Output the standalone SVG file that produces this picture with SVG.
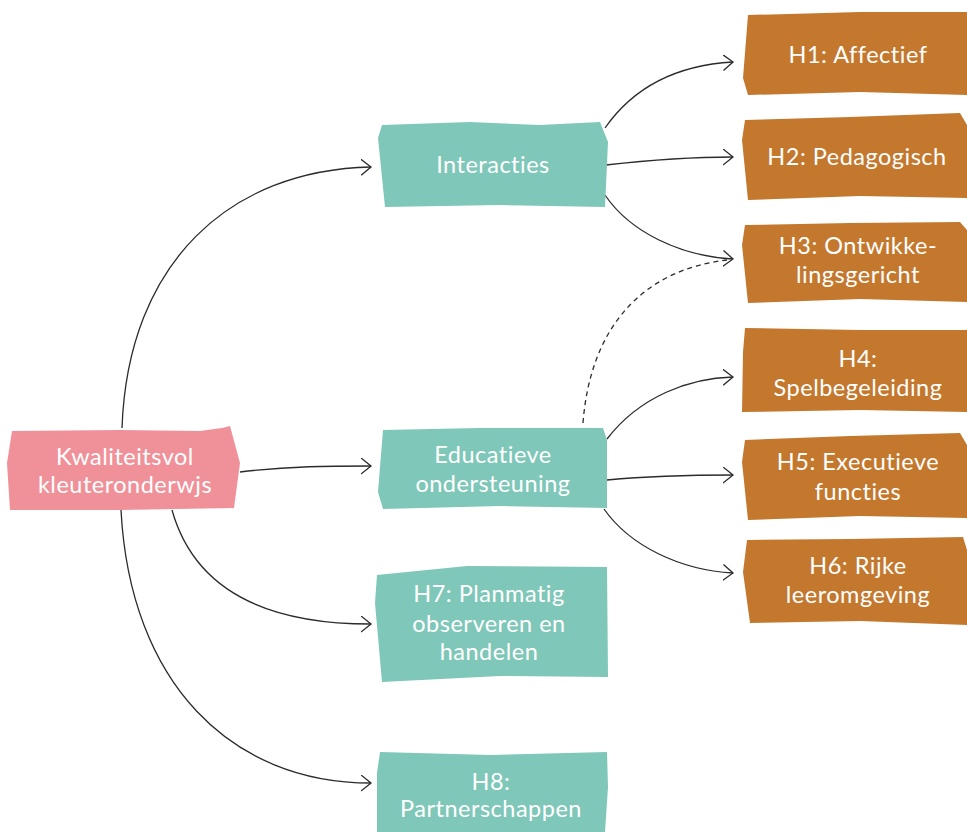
<svg xmlns="http://www.w3.org/2000/svg" width="967" height="832" viewBox="0 0 967 832">
<defs>
<style>
.pink{fill:#F0919A}
.teal{fill:#7FC7B8}
.orange{fill:#C4782E}
.t{font-family:"Lato","Liberation Sans",sans-serif;font-size:23.5px;letter-spacing:0.5px;fill:#ffffff;text-anchor:middle}
.c{fill:none;stroke:#2b2b2b;stroke-width:1.3}
.d{stroke-dasharray:5 4}
</style>
<marker id="arr" markerUnits="userSpaceOnUse" markerWidth="12" markerHeight="18" refX="10" refY="8" orient="auto" viewBox="0 0 12 18">
<path d="M0,0 L10,8 L0,16" fill="none" stroke="#2b2b2b" stroke-width="1.3"/>
</marker>
</defs>
<rect width="967" height="832" fill="#ffffff"/>
<g id="connectors">
<path class="c" marker-end="url(#arr)" d="M122,428 C128,262 230,170 371,167"/>
<path class="c" marker-end="url(#arr)" d="M240,472 C290,466 330,466 371,466"/>
<path class="c" marker-end="url(#arr)" d="M172,510 C195,592 270,624 371,624"/>
<path class="c" marker-end="url(#arr)" d="M121,510 C130,682 230,783 371,783"/>
<path class="c" marker-end="url(#arr)" d="M605,128 C635,85 680,65 733,62"/>
<path class="c" marker-end="url(#arr)" d="M606,165 C650,160 690,157 733,157"/>
<path class="c" marker-end="url(#arr)" d="M605,195 C630,232 680,256 733,259"/>
<path class="c d" d="M583,423 C590,330 640,270 727,260"/>
<path class="c" marker-end="url(#arr)" d="M607,439 C640,396 690,378 733,377"/>
<path class="c" marker-end="url(#arr)" d="M607,480 C650,476 690,475 733,475"/>
<path class="c" marker-end="url(#arr)" d="M604,509 C630,546 680,570 733,573"/>
</g>
<g id="kwaliteitsvol">
<polygon class="pink" points="12,431 120,430 200,431 222,428 230,426 240,463 234,508 120,510 10,510 7,463"/>
<text class="t" x="125" y="465">Kwaliteitsvol</text>
<text class="t" x="125" y="493">kleuteronderwjs</text>
</g>
<g id="interacties">
<polygon class="teal" points="382,125 470,122 540,125 600,122 608,142 605,207 500,205 385,207 378,138"/>
<text class="t" x="493" y="173">Interacties</text>
</g>
<g id="educatieve">
<polygon class="teal" points="383,430 480,428 603,428 607,440 607,508 500,506 383,509 378,492"/>
<text class="t" x="493" y="463">Educatieve</text>
<text class="t" x="493" y="492">ondersteuning</text>
</g>
<g id="h7">
<polygon class="teal" points="377,575 467,566 607,567 608,677 500,676 382,682 375,603"/>
<text class="t" x="489" y="602">H7: Planmatig</text>
<text class="t" x="489" y="632">observeren en</text>
<text class="t" x="489" y="660">handelen</text>
</g>
<g id="h8">
<polygon class="teal" points="380,752 490,755 607,752 608,787 605,832 377,832 377,773"/>
<text class="t" x="491" y="790">H8:</text>
<text class="t" x="491" y="817">Partnerschappen</text>
</g>
<g id="h1">
<polygon class="orange" points="748,15 860,12 967,12 967,95 860,92 748,95 743,78"/>
<text class="t" x="858" y="63">H1: Affectief</text>
</g>
<g id="h2">
<polygon class="orange" points="745,120 850,117 960,113 967,125 967,198 860,196 748,200 742,140"/>
<text class="t" x="857" y="165">H2: Pedagogisch</text>
</g>
<g id="h3">
<polygon class="orange" points="745,225 850,223 960,222 967,230 967,302 860,299 748,303 742,245"/>
<text class="t" x="858" y="254">H3: Ontwikke-</text>
<text class="t" x="858" y="283">lingsgericht</text>
</g>
<g id="h4">
<polygon class="orange" points="745,328 860,330 967,330 967,412 860,410 742,412 743,352"/>
<text class="t" x="858" y="367">H4:</text>
<text class="t" x="858" y="396">Spelbegeleiding</text>
</g>
<g id="h5">
<polygon class="orange" points="745,440 850,436 960,433 967,445 967,518 860,516 748,520 742,462"/>
<text class="t" x="858" y="470">H5: Executieve</text>
<text class="t" x="858" y="500">functies</text>
</g>
<g id="h6">
<polygon class="orange" points="747,540 850,539 963,537 967,550 967,625 860,621 750,623 743,572"/>
<text class="t" x="858" y="574">H6: Rijke</text>
<text class="t" x="858" y="603">leeromgeving</text>
</g>
</svg>
